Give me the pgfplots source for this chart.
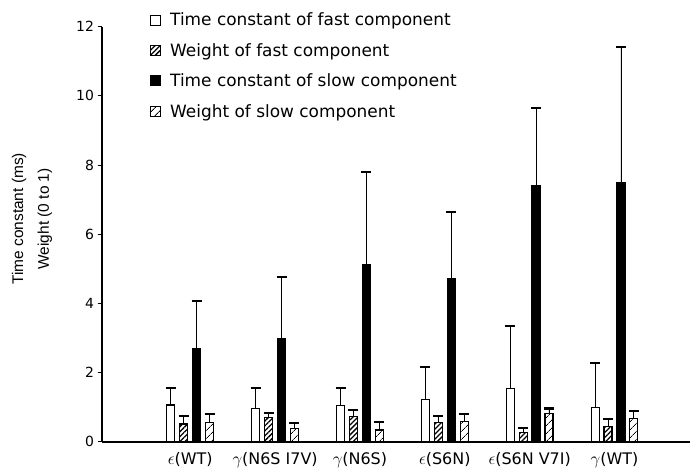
\documentclass[border=0pt]{standalone}
\usepackage{fontspec}
\setmainfont{DejaVu Sans}
\newfontfamily\labfont{Liberation Sans}
\usepackage{pgfplots}
\pgfplotsset{compat=1.18}
\usetikzlibrary{patterns.meta}

\begin{document}
\begin{tikzpicture}
\useasboundingbox (0,0) rectangle (690bp,473bp);
\begin{axis}[
  at={(102bp,31.3bp)}, anchor=south west,
  scale only axis, width=588bp, height=415bp,
  xmin=-0.04, xmax=6.89, ymin=0, ymax=12,
  axis lines*=left,
  axis line style={line width=1.6bp},
  ybar=4.9bp, bar width=8bp,
  ytick={0,2,...,12},
  xtick={1,...,6},
  xticklabels={$\epsilon$(WT), $\gamma$(N6S I7V), $\gamma$(N6S), $\epsilon$(S6N), $\epsilon$(S6N V7I), $\gamma$(WT)},
  x tick style={draw=none},
  y tick style={line width=1bp, black},
  tick align=outside, major tick length=4.5bp,
  /pgf/number format/assume math mode=true,
  yticklabel style={font=\fontsize{14}{16}\selectfont},
  xticklabel style={font=\fontsize{16}{18}\selectfont, yshift=-3bp},
  ylabel={Time constant (ms)\\Weight (0 to 1)},
  ylabel style={font=\labfont\fontsize{15.5}{26}\selectfont, align=center, at={(axis description cs:-0.119,0.537)}, anchor=center},
  every axis plot post/.append style={legend image code/.code={\draw[#1, line width=1bp] (0bp,-5bp) rectangle (10bp,5bp);}},
  legend style={at={(axis description cs:0.0816,1.038)}, anchor=north west, draw=none, fill=none,
    font=\fontsize{17}{20}\selectfont, row sep=12bp, inner sep=0pt,
    /tikz/every odd column/.append style={column sep=7bp}},
  legend cell align=left,
  error bars/y dir=plus, error bars/y explicit,
  error bars/error bar style={line width=0.8bp, black},
  error bars/error mark options={rotate=90, line width=2bp, mark size=5bp, black},
]
\addplot[fill=white, draw=black, line width=1.2bp] coordinates {
  (1,1.06) +- (0,0.50)
  (2,0.96) +- (0,0.60)
  (3,1.04) +- (0,0.50)
  (4,1.22) +- (0,0.94)
  (5,1.54) +- (0,1.81)
  (6,0.99) +- (0,1.28)
};
\addlegendentry{Time constant of fast component}
\addplot[pattern={Lines[angle=45,distance=3.5bp,line width=1.3bp]}, draw=black, line width=1.2bp] coordinates {
  (1,0.51) +- (0,0.22)
  (2,0.69) +- (0,0.13)
  (3,0.72) +- (0,0.20)
  (4,0.55) +- (0,0.20)
  (5,0.26) +- (0,0.15)
  (6,0.44) +- (0,0.21)
};
\addlegendentry{Weight of fast component}
\addplot[fill=black, draw=black, line width=1.2bp] coordinates {
  (1,2.68) +- (0,1.39)
  (2,2.99) +- (0,1.76)
  (3,5.13) +- (0,2.68)
  (4,4.72) +- (0,1.93)
  (5,7.40) +- (0,2.26)
  (6,7.49) +- (0,3.93)
};
\addlegendentry{Time constant of slow component}
\addplot[pattern={Lines[angle=45,distance=6bp,line width=1bp]}, draw=black, line width=1.2bp] coordinates {
  (1,0.56) +- (0,0.24)
  (2,0.39) +- (0,0.14)
  (3,0.34) +- (0,0.22)
  (4,0.59) +- (0,0.22)
  (5,0.82) +- (0,0.14)
  (6,0.67) +- (0,0.22)
};
\addlegendentry{Weight of slow component}
\end{axis}
\end{tikzpicture}
\end{document}
